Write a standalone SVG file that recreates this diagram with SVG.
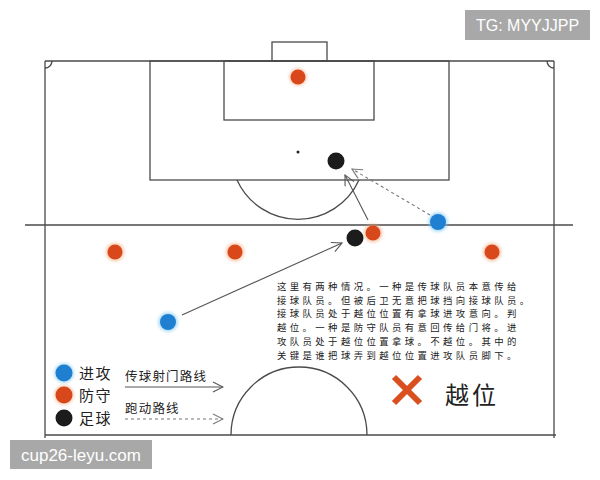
<svg xmlns="http://www.w3.org/2000/svg" width="600" height="480" viewBox="0 0 600 480">
<defs>
<style>
.ln{fill:none;stroke:#4a4a4a;stroke-width:1.3}
.ar{fill:none;stroke:#555;stroke-width:1.1}
.da{fill:none;stroke:#777;stroke-width:1.1;stroke-dasharray:3 3}
.cn{font-family:"Noto Sans CJK SC","Noto Sans",sans-serif;fill:#222}
.wm{font-family:"Liberation Sans",Arial,sans-serif;fill:#fff}
</style>
<marker id="ah" viewBox="0 0 12 12" refX="11" refY="6" markerWidth="12" markerHeight="12" markerUnits="userSpaceOnUse" orient="auto">
<path d="M1,1 L11,6 L1,11" fill="none" stroke="#555" stroke-width="1.1"/>
</marker>
<marker id="ahd" viewBox="0 0 12 12" refX="11" refY="6" markerWidth="12" markerHeight="12" markerUnits="userSpaceOnUse" orient="auto">
<path d="M1,1 L11,6 L1,11" fill="none" stroke="#777" stroke-width="1.1"/>
</marker>
<filter id="glowB" x="-50%" y="-50%" width="200%" height="200%"><feGaussianBlur stdDeviation="1.5"/></filter>
</defs>
<rect width="600" height="480" fill="#fff"/>
<g id="pitch">
<line class="ln" x1="45" y1="61" x2="554" y2="61"/>
<line class="ln" x1="45" y1="61" x2="45" y2="438"/>
<line class="ln" x1="554" y1="61" x2="554" y2="438"/>
<line class="ln" x1="25" y1="225" x2="573" y2="225"/>
<line class="ln" x1="45" y1="435" x2="556" y2="435"/>
<rect class="ln" x="150" y="61" width="299" height="119"/>
<rect class="ln" x="224" y="61" width="150" height="59"/>
<rect class="ln" x="272" y="42" width="55" height="19"/>
<circle cx="298" cy="152" r="1.5" fill="#222"/>
<path class="ln" d="M237,180 A67,67 0 0 0 359,180"/>
<path class="ln" d="M231,435 A68,68 0 0 1 367,435"/>
<path class="ln" d="M45,68 A7,7 0 0 0 52,61"/>
<path class="ln" d="M547,61 A7,7 0 0 0 554,68"/>
</g>
<g id="connectors">
<line class="ar" x1="182" y1="315" x2="342" y2="243" marker-end="url(#ah)"/>
<line class="ar" x1="368" y1="220" x2="345" y2="175" marker-end="url(#ah)"/>
<line class="da" x1="430" y1="215" x2="352" y2="169" marker-end="url(#ahd)"/>
</g>
<g id="players">
<g id="def-gk"><circle cx="298" cy="77" r="9" fill="#f0a070" opacity="0.5" filter="url(#glowB)"/><circle cx="298" cy="77" r="7.5" fill="#d9481a"/></g>
<g id="ball-top"><circle cx="336" cy="161" r="8.5" fill="#1c1c1c"/></g>
<g id="att-right"><circle cx="438" cy="222" r="10" fill="#7cc8f0" opacity="0.6" filter="url(#glowB)"/><circle cx="438" cy="222" r="8" fill="#1f7fd0"/></g>
<g id="def-right"><circle cx="492" cy="252" r="9.5" fill="#f0a070" opacity="0.5" filter="url(#glowB)"/><circle cx="492" cy="252" r="7.5" fill="#d9481a"/></g>
<g id="def-mid"><circle cx="373" cy="233" r="9.5" fill="#f0a070" opacity="0.5" filter="url(#glowB)"/><circle cx="373" cy="233" r="7.5" fill="#d9481a"/></g>
<g id="ball-mid"><circle cx="355" cy="238" r="8.5" fill="#1c1c1c"/></g>
<g id="def-left1"><circle cx="115" cy="252" r="9.5" fill="#f0a070" opacity="0.5" filter="url(#glowB)"/><circle cx="115" cy="252" r="7.5" fill="#d9481a"/></g>
<g id="def-left2"><circle cx="235" cy="252" r="9.5" fill="#f0a070" opacity="0.5" filter="url(#glowB)"/><circle cx="235" cy="252" r="7.5" fill="#d9481a"/></g>
<g id="att-left"><circle cx="168" cy="322" r="10" fill="#7cc8f0" opacity="0.6" filter="url(#glowB)"/><circle cx="168" cy="322" r="8" fill="#1f7fd0"/></g>
</g>
<g id="explanation" class="cn" font-size="9.4" letter-spacing="3.4" fill="#111">
<text x="277" y="290">这里有两种情况。一种是传球队员本意传给</text>
<text x="277" y="303.7">接球队员。但被后卫无意把球挡向接球队员。</text>
<text x="277" y="317.4">接球队员处于越位位置有拿球进攻意向。判</text>
<text x="277" y="331.1">越位。一种是防守队员有意回传给门将。进</text>
<text x="277" y="344.8">攻队员处于越位位置拿球。不越位。其中的</text>
<text x="277" y="358.5">关键是谁把球弄到越位位置进攻队员脚下。</text>
</g>
<g id="legend">
<circle cx="64" cy="373" r="10" fill="#7cc8f0" opacity="0.6" filter="url(#glowB)"/>
<circle cx="64" cy="373" r="8.5" fill="#1f7fd0"/>
<circle cx="64" cy="395" r="10" fill="#f0a070" opacity="0.5" filter="url(#glowB)"/>
<circle cx="64" cy="395" r="8.5" fill="#d9481a"/>
<circle cx="64" cy="418" r="8.5" fill="#1c1c1c"/>
<text class="cn" x="79" y="379" font-size="15" letter-spacing="1.5">进攻</text>
<text class="cn" x="79" y="401" font-size="15" letter-spacing="1.5">防守</text>
<text class="cn" x="79" y="424" font-size="15" letter-spacing="1.5">足球</text>
<text class="cn" x="125" y="381" font-size="12.5" letter-spacing="1.2">传球射门路线</text>
<line class="ar" x1="125" y1="387" x2="223" y2="387" marker-end="url(#ah)"/>
<text class="cn" x="125" y="413" font-size="12.5" letter-spacing="1.2">跑动路线</text>
<line class="da" x1="125" y1="419" x2="223" y2="419" marker-end="url(#ahd)"/>
</g>
<g id="offside-label">
<path d="M394,377 L420,403 M420,377 L394,403" stroke="#d9501e" stroke-width="6" stroke-linecap="butt"/>
<text class="cn" x="445" y="404" font-size="24" letter-spacing="3">越位</text>
</g>
<g id="watermarks">
<rect x="465" y="10" width="125" height="30" fill="#a8a8a8"/>
<text class="wm" x="527.5" y="31" font-size="16" text-anchor="middle">TG: MYYJJPP</text>
<rect x="10" y="440" width="142" height="29" fill="#a8a8a8"/>
<text class="wm" x="81" y="461" font-size="17" text-anchor="middle">cup26-leyu.com</text>
</g>
</svg>
